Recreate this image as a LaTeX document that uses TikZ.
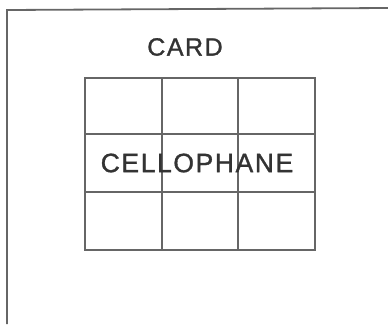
\documentclass[tikz,border=0pt]{standalone}
\usepackage{fontspec}
\setmainfont{Liberation Sans}
\newfontfamily\lblfont[LetterSpace=6,FakeBold=1.2]{Liberation Sans}
\begin{document}
\begin{tikzpicture}[x=1pt,y=-1pt,
  frame/.style={draw=black!60,line width=1.8pt},
  gridline/.style={draw=black!60,line width=1.2pt},
  lbl/.style={text=black!80,font=\lblfont\fontsize{25}{25}\selectfont,inner sep=0pt}]
\useasboundingbox (0,0) rectangle (388,324);
\coordinate (tl) at (7,10);
\coordinate (tr) at (388,8);
\coordinate (bl) at (7,324);
\draw[frame] (tr) -- (tl) -- (bl);
\coordinate (g00) at (85,78);
\coordinate (g11) at (315,250);
\draw[gridline] (g00) rectangle (g11);
\foreach \x in {162,238} \draw[gridline] (\x,78) -- (\x,250);
\foreach \y in {134,192} \draw[gridline] (85,\y) -- (315,\y);
\node[lbl] (card) at (185,47) {CARD};
\node[lbl,font=\lblfont\fontsize{26.5}{26.5}\selectfont] (cello) at (197,163) {CELLOPHANE};
\end{tikzpicture}
\end{document}
